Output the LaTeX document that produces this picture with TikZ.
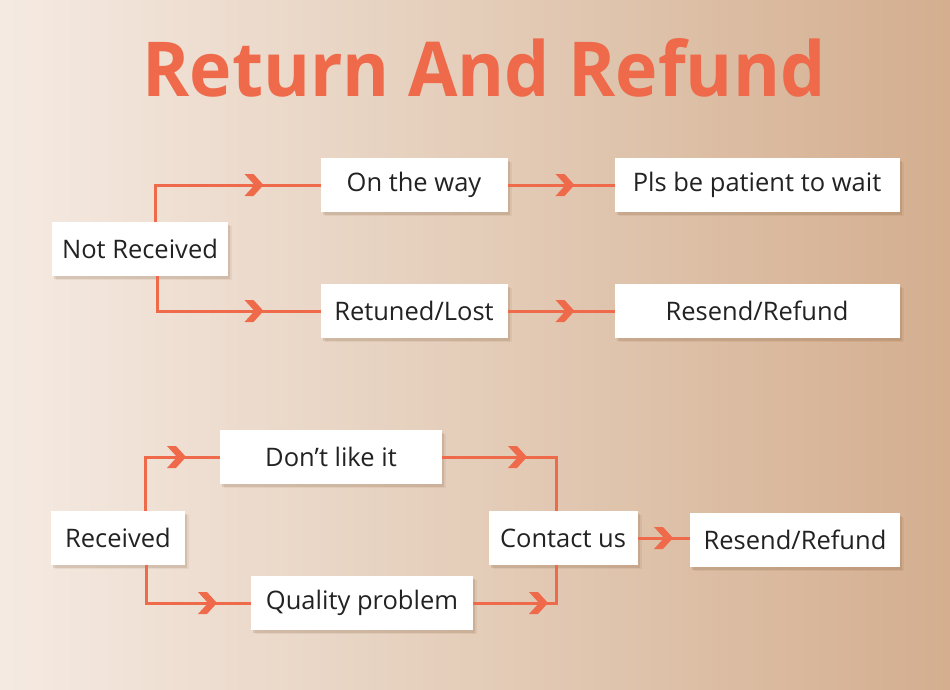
\documentclass[tikz,border=0pt]{standalone}
\usepackage{fontspec}
\setmainfont{Open Sans}
\usetikzlibrary{shadows,decorations.markings,calc}
\definecolor{accent}{HTML}{EE6A4A}
\definecolor{bgleft}{HTML}{F5EAE2}
\definecolor{bgmid}{HTML}{E4CDB9}
\definecolor{bgright}{HTML}{D4AE8F}
\definecolor{txt}{HTML}{222222}
\tikzset{
  box/.style={fill=white, minimum height=54pt, inner sep=0pt, outer sep=0pt,
    text=txt, font=\fontsize{25.5}{28}\selectfont,
    drop shadow={shadow xshift=4pt, shadow yshift=-4pt, opacity=0.08, fill=brown!60!black},
    drop shadow={shadow xshift=2pt, shadow yshift=-2.5pt, opacity=0.15, fill=brown!60!black}},
  conn/.style={draw=accent, line width=3pt},
  chev/.style={postaction={decorate, decoration={markings,
    mark=at position #1 with {\fill[accent] (0pt,0pt) -- (-10pt,11pt) -- (-19pt,11pt) -- (-9pt,0pt) -- (-19pt,-11pt) -- (-10pt,-11pt) -- cycle;}}}}
}
\begin{document}
\begin{tikzpicture}[x=1pt,y=-1pt]
\useasboundingbox (0,0) rectangle (950,690);
\shade[left color=bgleft, right color=bgright, middle color=bgmid] (0,0) rectangle (950,690);
\node[text=accent, font=\bfseries] (title) at (484,68) {\resizebox{683pt}{58pt}{Return And Refund}};

\node[box, minimum width=176pt] (nr) at (140,249) {Not Received};
\node[box, minimum width=187pt] (otw) at (414,185) {On the way};
\node[box, minimum width=285pt] (pls) at (757,185) {Pls be patient to wait};
\node[box, minimum width=187pt] (rl) at (414,311) {Retuned/Lost};
\node[box, minimum width=285pt] (rr1) at (757,311) {Resend/Refund};

\node[box, minimum width=222pt] (dli) at (331,457) {Don’t like it};
\node[box, minimum width=134pt] (rec) at (118,538) {Received};
\node[box, minimum width=222pt] (qp) at (362,603) {Quality problem};
\node[box, minimum width=149pt] (cu) at (563,538) {Contact us};
\node[box, minimum width=210pt] (rr2) at (795,540) {Resend/Refund};

\path[conn, chev=-57pt] ([xshift=15pt]nr.north) |- (otw.west);
\path[conn, chev=-57pt] ([xshift=17pt]nr.south) |- (rl.west);
\path[conn, chev=-40pt] (otw.east) -- (pls.west);
\path[conn, chev=-40pt] (rl.east) -- (rr1.west);

\path[conn, chev=-34pt] ([xshift=27pt]rec.north) |- (dli.west);
\path[conn, chev=-34pt] ([xshift=28pt]rec.south) |- (qp.west);
\path[conn, chev=-83pt] (dli.east) -| ([xshift=-7pt]cu.north);
\path[conn, chev=-46pt] (qp.east) -| ([xshift=-7pt]cu.south);
\path[conn, chev=-17pt] (cu.east) -- (rr2.west |- cu.east);
\end{tikzpicture}
\end{document}
